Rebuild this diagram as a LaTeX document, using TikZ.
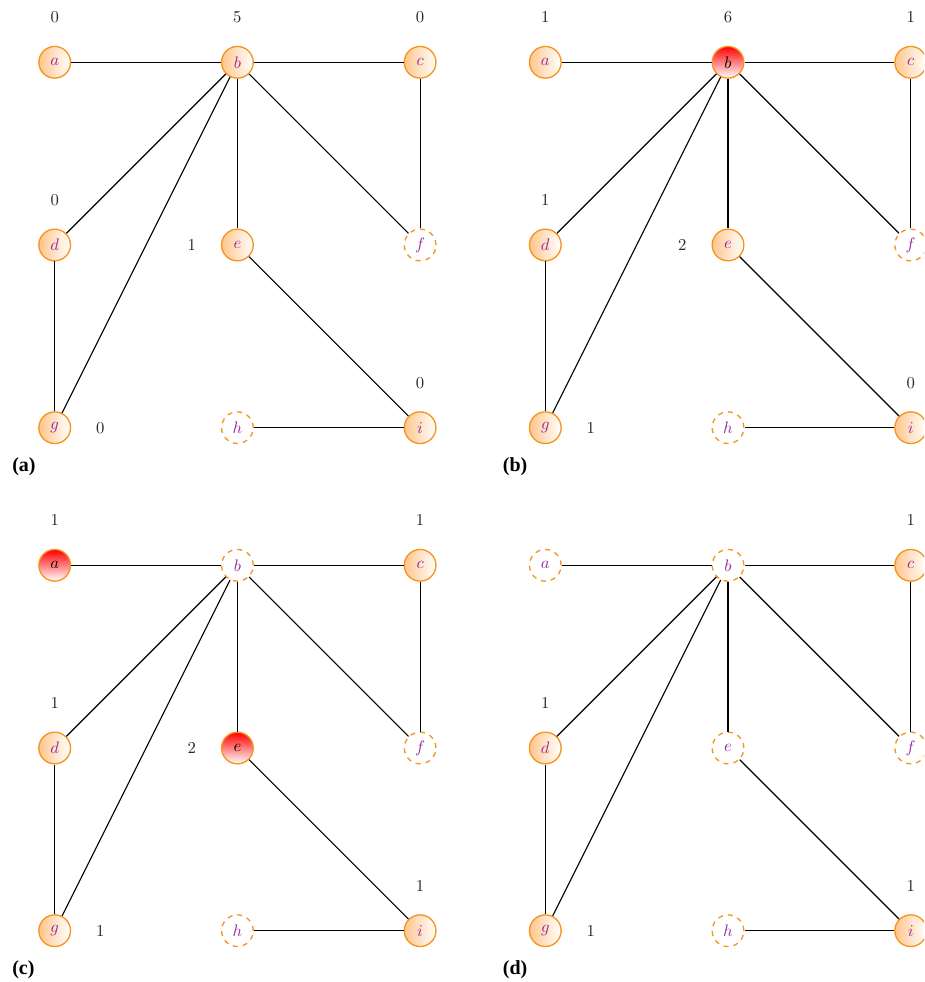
\documentclass[tikz,border=0pt]{standalone}
\usepackage{fontspec}
\usepackage{tikz}
\newfontfamily\tagfont{Liberation Serif}
\definecolor{vorange}{RGB}{247,148,30}
\definecolor{vpurple}{RGB}{150,40,160}
\tikzset{
  base/.style={circle, minimum size=19pt, inner sep=0pt, draw=vorange, line width=0.8pt},
  vtx/.style={base, left color=orange!45, right color=white, text=vpurple},
  hot/.style={base, top color=red, bottom color=white, text=black},
  gone/.style={base, dashed, fill=white, text=vpurple},
  link/.style={line width=0.7pt, black},
  num/.style={text=black!85},
  tag/.style={font=\tagfont\bfseries\fontsize{12}{14}\selectfont, anchor=west, inner sep=0pt}
}
\begin{document}
\begin{tikzpicture}[x=0.6pt, y=-0.6pt]
\clip (0,0) rectangle (924,982);
\fill[white] (0,0) rectangle (924,982);
% ---------- panel (a)
\node[vtx]  (Aa) at (54.7,62.3) {$a$};
\node[vtx]  (Ab) at (237.4,62.3) {$b$};
\node[vtx]  (Ac) at (420.1,62.3) {$c$};
\node[vtx]  (Ad) at (54.7,245) {$d$};
\node[vtx]  (Ae) at (237.4,245) {$e$};
\node[gone] (Af) at (420.1,245) {$f$};
\node[vtx]  (Ag) at (54.7,427.7) {$g$};
\node[gone] (Ah) at (237.4,427.7) {$h$};
\node[vtx]  (Ai) at (420.1,427.7) {$i$};
\node[num] (nAa) at (54.7,17.3) {0};
\node[num] (nAb) at (237.4,17.3) {5};
\node[num] (nAc) at (420.1,17.3) {0};
\node[num] (nAd) at (54.7,200) {0};
\node[num] (nAe) at (191.7,245) {1};
\node[num] (nAg) at (100.3,427.7) {0};
\node[num] (nAi) at (420.1,382.7) {0};
\node[tag] (tA) at (12,467) {(a)};
\foreach \u/\v in {a/b,b/c,b/d,b/g,b/e,b/f,c/f,d/g,e/i,h/i}
  \draw[link] (A\u) -- (A\v);
% ---------- panel (b)
\begin{scope}[shift={(490.6,0)}]
\node[vtx]  (Ba) at (54.7,62.3) {$a$};
\node[hot]  (Bb) at (237.4,62.3) {$b$};
\node[vtx]  (Bc) at (420.1,62.3) {$c$};
\node[vtx]  (Bd) at (54.7,245) {$d$};
\node[vtx]  (Be) at (237.4,245) {$e$};
\node[gone] (Bf) at (420.1,245) {$f$};
\node[vtx]  (Bg) at (54.7,427.7) {$g$};
\node[gone] (Bh) at (237.4,427.7) {$h$};
\node[vtx]  (Bi) at (420.1,427.7) {$i$};
\node[num] (nBa) at (54.7,17.3) {1};
\node[num] (nBb) at (237.4,17.3) {6};
\node[num] (nBc) at (420.1,17.3) {1};
\node[num] (nBd) at (54.7,200) {1};
\node[num] (nBe) at (191.7,245) {2};
\node[num] (nBg) at (100.3,427.7) {1};
\node[num] (nBi) at (420.1,382.7) {0};
\node[tag] (tB) at (12,467) {(b)};
\foreach \u/\v in {a/b,b/c,b/d,b/g,b/e,b/f,c/f,d/g,e/i,h/i}
  \draw[link] (B\u) -- (B\v);
\end{scope}
% ---------- panel (c)
\begin{scope}[shift={(0,503)}]
\node[hot]  (Ca) at (54.7,62.3) {$a$};
\node[gone] (Cb) at (237.4,62.3) {$b$};
\node[vtx]  (Cc) at (420.1,62.3) {$c$};
\node[vtx]  (Cd) at (54.7,245) {$d$};
\node[hot]  (Ce) at (237.4,245) {$e$};
\node[gone] (Cf) at (420.1,245) {$f$};
\node[vtx]  (Cg) at (54.7,427.7) {$g$};
\node[gone] (Ch) at (237.4,427.7) {$h$};
\node[vtx]  (Ci) at (420.1,427.7) {$i$};
\node[num] (nCa) at (54.7,17.3) {1};
\node[num] (nCc) at (420.1,17.3) {1};
\node[num] (nCd) at (54.7,200) {1};
\node[num] (nCe) at (191.7,245) {2};
\node[num] (nCg) at (100.3,427.7) {1};
\node[num] (nCi) at (420.1,382.7) {1};
\node[tag] (tC) at (12,467) {(c)};
\foreach \u/\v in {a/b,b/c,b/d,b/g,b/e,b/f,c/f,d/g,e/i,h/i}
  \draw[link] (C\u) -- (C\v);
\end{scope}
% ---------- panel (d)
\begin{scope}[shift={(490.6,503)}]
\node[gone] (Da) at (54.7,62.3) {$a$};
\node[gone] (Db) at (237.4,62.3) {$b$};
\node[vtx]  (Dc) at (420.1,62.3) {$c$};
\node[vtx]  (Dd) at (54.7,245) {$d$};
\node[gone] (De) at (237.4,245) {$e$};
\node[gone] (Df) at (420.1,245) {$f$};
\node[vtx]  (Dg) at (54.7,427.7) {$g$};
\node[gone] (Dh) at (237.4,427.7) {$h$};
\node[vtx]  (Di) at (420.1,427.7) {$i$};
\node[num] (nDc) at (420.1,17.3) {1};
\node[num] (nDd) at (54.7,200) {1};
\node[num] (nDg) at (100.3,427.7) {1};
\node[num] (nDi) at (420.1,382.7) {1};
\node[tag] (tD) at (12,467) {(d)};
\foreach \u/\v in {a/b,b/c,b/d,b/g,b/e,b/f,c/f,d/g,e/i,h/i}
  \draw[link] (D\u) -- (D\v);
\end{scope}
\end{tikzpicture}
\end{document}
